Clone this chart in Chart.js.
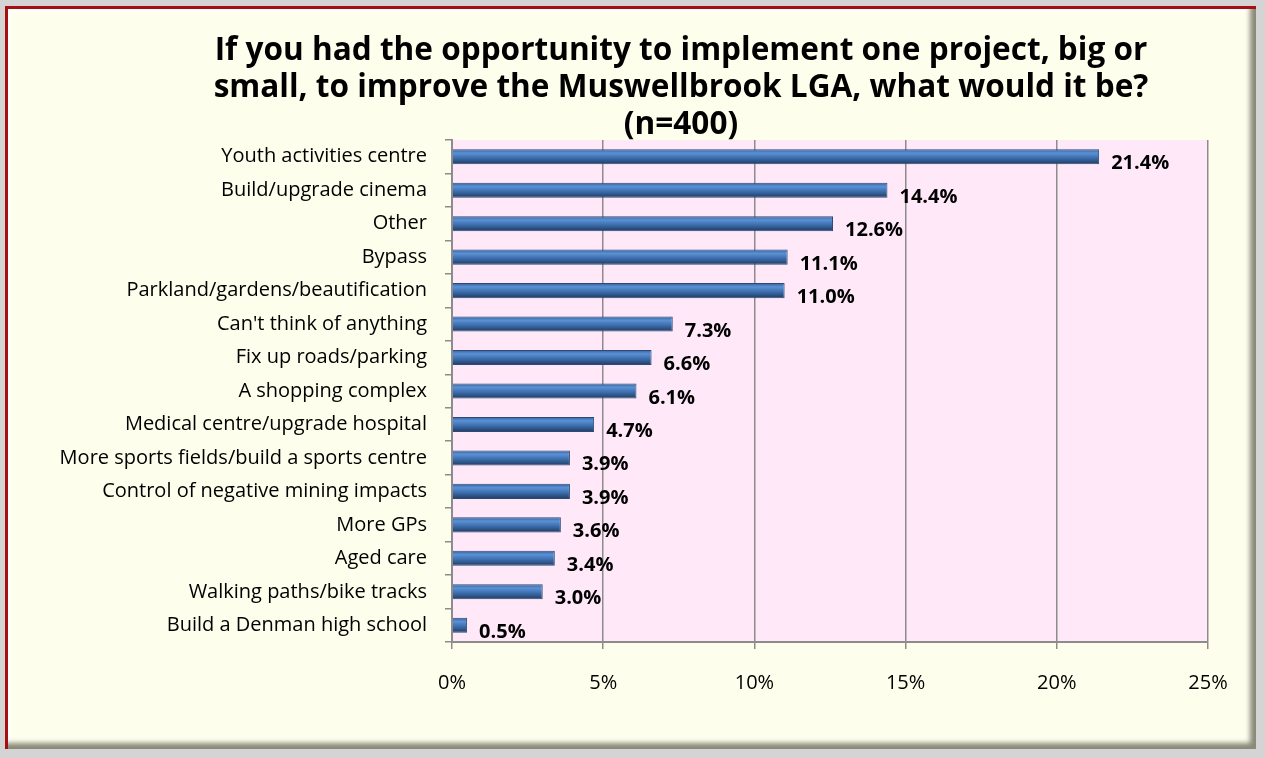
<!DOCTYPE html>
<html>
<head>
<meta charset="utf-8">
<script src="https://cdn.jsdelivr.net/npm/chart.js@4/dist/chart.umd.min.js"></script>
<style>
  html, body { margin: 0; padding: 0; }
  body { width: 1265px; height: 758px; background: #d4d4d4; position: relative; overflow: hidden; }
  #frame { position: absolute; left: 5px; top: 6px; width: 1248px; height: 740px;
           background: #FEFEEC; border-top: 3px solid #a50f0f; border-left: 3px solid #a50f0f;
           box-shadow: inset -9px -9px 5px -3px #8a8a7a, inset 3px 3px 2px #ffffff; }
  #wrap { position: absolute; left: 0; top: 0; width: 1265px; height: 758px; }
</style>
</head>
<body>
<div id="frame"></div>
<div id="wrap"><canvas id="c" width="1265" height="758"></canvas></div>
<script>
const titleLines = [
  "If you had the opportunity to implement one project, big or",
  "small, to improve the Muswellbrook LGA, what would it be?",
  "(n=400)"
];
const categories = [
  "Youth activities centre",
  "Build/upgrade cinema",
  "Other",
  "Bypass",
  "Parkland/gardens/beautification",
  "Can't think of anything",
  "Fix up roads/parking",
  "A shopping complex",
  "Medical centre/upgrade hospital",
  "More sports fields/build a sports centre",
  "Control of negative mining impacts",
  "More GPs",
  "Aged care",
  "Walking paths/bike tracks",
  "Build a Denman high school"
];
const values = [21.4, 14.4, 12.6, 11.1, 11.0, 7.3, 6.6, 6.1, 4.7, 3.9, 3.9, 3.6, 3.4, 3.0, 0.5];
const xTicks = [0, 5, 10, 15, 20, 25];

const plotBg = {
  id: 'plotBg',
  beforeDraw(chart) {
    const {ctx, chartArea: a} = chart;
    ctx.save();
    ctx.fillStyle = '#FFE9F9';
    ctx.fillRect(a.left, a.top, a.right - a.left, a.bottom - a.top);
    ctx.restore();
  }
};
const titleDraw = {
  id: 'titleDraw',
  afterDraw(chart) {
    const {ctx} = chart;
    ctx.save();
    ctx.font = 'bold 28px "Open Sans"';
    const w = ctx.measureText(titleLines[0]).width;
    const size = 28 * 933 / w;
    ctx.font = 'bold ' + size.toFixed(2) + 'px "Open Sans"';
    ctx.fillStyle = '#000';
    ctx.textAlign = 'center';
    ctx.textBaseline = 'middle';
    const ys = [51, 88, 125];
    titleLines.forEach((t, i) => ctx.fillText(t, 681, ys[i]));
    ctx.restore();
  }
};
const valueLabels = {
  id: 'valueLabels',
  afterDatasetsDraw(chart) {
    const {ctx} = chart;
    const meta = chart.getDatasetMeta(0);
    ctx.save();
    ctx.font = 'bold 20px "Open Sans"';
    ctx.fillStyle = '#000';
    ctx.textAlign = 'left';
    ctx.textBaseline = 'alphabetic';
    meta.data.forEach((bar, i) => {
      ctx.fillText(values[i].toFixed(1) + '%', bar.x + 12, bar.y + 12.5);
    });
    ctx.restore();
  }
};

new Chart(document.getElementById('c'), {
  type: 'bar',
  data: {
    labels: categories,
    datasets: [{
      data: values,
      backgroundColor(ctx) {
        const chart = ctx.chart;
        const ys = chart.scales && chart.scales.y;
        if (!ys || !chart.chartArea) return '#3a6bb0';
        const y = ys.getPixelForValue(ctx.dataIndex);
        if (!isFinite(y)) return '#3a6bb0';
        const h = 15;
        const g = chart.ctx.createLinearGradient(0, y - h / 2, 0, y + h / 2);
        g.addColorStop(0, '#34609c');
        g.addColorStop(0.25, '#5b91d4');
        g.addColorStop(0.55, '#3f71b2');
        g.addColorStop(1, '#1f3b60');
        return g;
      },
      borderColor: '#2c4a75',
      borderWidth: 1,
      barPercentage: 0.45,
      categoryPercentage: 1.0
    }]
  },
  options: {
    indexAxis: 'y',
    responsive: false,
    animation: false,
    layout: { padding: { left: 10, right: 57, top: 140, bottom: 41 } },
    plugins: {
      legend: { display: false },
      tooltip: { enabled: false },
      title: { display: false }
    },
    scales: {
      x: {
        min: 0, max: 25,
        afterBuildTicks(scale) { scale.ticks = xTicks.map(v => ({ value: v })); },
        ticks: {
          callback: v => v + '%',
          color: '#000',
          font: { family: '"Open Sans"', size: 20 },
          padding: 22
        },
        grid: { color: '#8c8c8c', lineWidth: 1.5, tickLength: 7, drawTicks: true },
        border: { color: '#8c8c8c', width: 2 }
      },
      y: {
        afterFit(scale) { scale.width = 442; },
        ticks: {
          color: '#000',
          font: { family: '"Open Sans"', size: 20 },
          padding: 18
        },
        grid: { drawOnChartArea: false, color: '#8c8c8c', tickLength: 7, offset: true, lineWidth: 1.5 },
        border: { color: '#8c8c8c', width: 2 }
      }
    }
  },
  plugins: [plotBg, valueLabels, titleDraw]
});
</script>
</body>
</html>
